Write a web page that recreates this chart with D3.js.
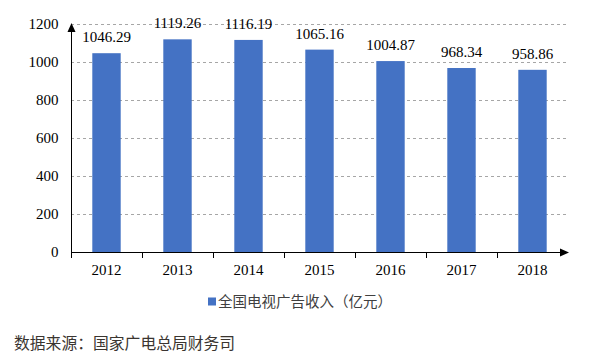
<!DOCTYPE html>
<html><head><meta charset="utf-8">
<script src="https://cdn.jsdelivr.net/npm/d3@7"></script>
<style>body{margin:0;background:#fff}</style>
</head><body>
<svg id="c" width="590" height="358"></svg>
<script>
const years = ["2012","2013","2014","2015","2016","2017","2018"];
const revenue = [1046.29,1119.26,1116.19,1065.16,1004.87,968.34,958.86];
const yTicks = [0,200,400,600,800,1000,1200];
const seriesName = "全国电视广告收入（亿元）";
const source = "数据来源：国家广电总局财务司";

const svg = d3.select("#c");
const x0 = 71, x1 = 568, yTop = 24, yBot = 252;
const x = d3.scaleBand().domain(years).range([x0, x1]).paddingInner(0.6).paddingOuter(0.3);
const xb = d3.scaleBand().domain(years).range([x0, x1]);
const y = d3.scaleLinear().domain([0,1200]).range([yBot, yTop]);
const serif = "'Liberation Serif', 'Times New Roman', serif";

// gridlines
svg.append("g").selectAll("line").data(yTicks.filter(d=>d>0)).join("line")
  .attr("x1", x0).attr("x2", x1).attr("y1", d=>y(d)+0.5).attr("y2", d=>y(d)+0.5)
  .attr("stroke","#a6a6a6").attr("stroke-dasharray","3,3").attr("stroke-width",1);

// bars
svg.append("g").selectAll("rect").data(revenue).join("rect")
  .attr("x",(d,i)=>x(years[i])).attr("width",x.bandwidth())
  .attr("y",d=>y(d)).attr("height",d=>yBot-y(d)).attr("fill","#4472C4");

// value labels
svg.append("g").selectAll("text").data(revenue).join("text")
  .attr("x",(d,i)=>x(years[i])+x.bandwidth()/2).attr("y",d=>y(d)-11)
  .attr("text-anchor","middle").style("font-family",serif).style("font-size","15px")
  .attr("fill","#000").text(d=>d.toFixed(2));

// y axis
const yAxis = svg.append("g").attr("transform",`translate(${x0+0.5},0)`)
  .call(d3.axisLeft(y).tickValues(yTicks).tickFormat(d3.format("d")).tickSize(0).tickPadding(13));
yAxis.select(".domain").remove();
yAxis.selectAll("text").style("font-family",serif).style("font-size","15px").attr("fill","#000");
svg.append("line").attr("x1",x0+0.5).attr("x2",x0+0.5).attr("y1",yBot).attr("y2",yTop+6).attr("stroke","#000");
svg.append("path").attr("d",`M${x0+0.5},${yTop-1} L${x0-3.5},${yTop+8} L${x0+4.5},${yTop+8} Z`).attr("fill","#000");

// x axis
const xAxis = svg.append("g").attr("transform",`translate(0,${yBot+0.5})`)
  .call(d3.axisBottom(xb).tickSize(0).tickPadding(12));
xAxis.select(".domain").remove();
xAxis.selectAll("text").style("font-family",serif).style("font-size","15px").attr("fill","#000");
svg.append("line").attr("x1",x0).attr("x2",x1-6).attr("y1",yBot+0.5).attr("y2",yBot+0.5).attr("stroke","#000");
svg.append("g").selectAll("line").data(years).join("line")
  .attr("x1",d=>Math.round(xb(d))+0.5).attr("x2",d=>Math.round(xb(d))+0.5)
  .attr("y1",yBot).attr("y2",yBot+6).attr("stroke","#000");
svg.append("path").attr("d",`M${x1+1},${yBot+0.5} L${x1-8},${yBot-3.5} L${x1-8},${yBot+4.5} Z`).attr("fill","#000");

// legend
svg.append("rect").attr("x",208).attr("y",297.5).attr("width",8).attr("height",8).attr("fill","#4472C4");
svg.append("text").attr("x",218).attr("y",306.5).style("font-family","'Noto Sans CJK SC'").style("font-size","14.5px")
  .attr("fill","#404040").text(seriesName);

// source
svg.append("text").attr("x",14).attr("y",349).style("font-family","'Noto Sans CJK SC'").style("font-size","15.8px")
  .attr("fill","#3a3530").text(source);
</script>
</body></html>
